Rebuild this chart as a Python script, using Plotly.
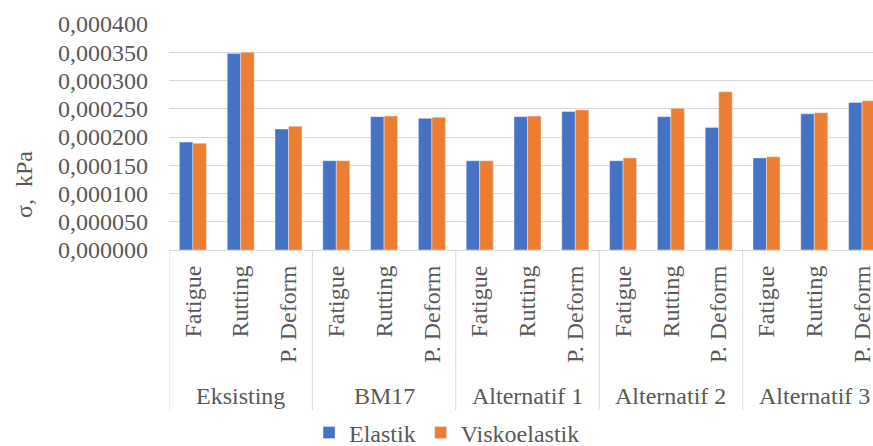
import plotly.graph_objects as go

# Stress per design alternative and distress criterion
groups = ["Eksisting", "BM17", "Alternatif 1", "Alternatif 2", "Alternatif 3"]
metrics = ["Fatigue", "Rutting", "P. Deform"]

elastik = [
    0.000191, 0.000348, 0.000214,
    0.000158, 0.000236, 0.000233,
    0.000158, 0.000236, 0.000245,
    0.000158, 0.000236, 0.000217,
    0.000163, 0.000241, 0.000261,
]
viskoelastik = [
    0.000189, 0.000350, 0.000219,
    0.000158, 0.000237, 0.000235,
    0.000158, 0.000237, 0.000248,
    0.000163, 0.000251, 0.000280,
    0.000165, 0.000243, 0.000264,
]

y_ticks = [0, 0.00005, 0.0001, 0.00015, 0.0002, 0.00025, 0.0003, 0.00035, 0.0004]

FONT = "Liberation Serif"
FS = 24
GREY = "#595959"
GRID = "#D9D9D9"

x_pos = list(range(len(groups) * len(metrics)))
inner_labels = [m for _ in groups for m in metrics]

fig = go.Figure()
fig.add_trace(go.Bar(x=x_pos, y=elastik, name="Elastik", marker_color="#4472C4"))
fig.add_trace(go.Bar(x=x_pos, y=viskoelastik, name="Viskoelastik", marker_color="#ED7D31"))

n_in = len(metrics)
shapes = []
annotations = []
for gi, g in enumerate(groups):
    left = gi * n_in - 0.5
    shapes.append(dict(type="line", xref="x", yref="paper", x0=left, x1=left,
                       y0=0, y1=-0.708, line=dict(color=GRID, width=1)))
    annotations.append(dict(text=g, xref="x", yref="paper", x=gi * n_in + 1,
                            y=-0.645, yanchor="middle", showarrow=False,
                            font=dict(family=FONT, size=FS, color=GREY)))

annotations.append(dict(text="σ,  kPa", xref="paper", yref="paper",
                        x=-145 / 704, y=(250 - 185) / 226,
                        xanchor="center", yanchor="middle", textangle=-90,
                        showarrow=False, font=dict(family=FONT, size=FS, color=GREY)))

fig.update_layout(
    width=873, height=446,
    margin=dict(l=169, r=0, t=24, b=196, autoexpand=False),
    plot_bgcolor="white", paper_bgcolor="white",
    barmode="group", bargap=0.435, bargroupgap=0,
    separators=", ",
    font=dict(family=FONT, size=FS, color=GREY),
    shapes=shapes, annotations=annotations,
    legend=dict(orientation="h", xref="container", yref="container",
                x=0.354, xanchor="left", y=(446 - 433) / 446, yanchor="middle",
                font=dict(family=FONT, size=FS, color=GREY),
                itemwidth=30, tracegroupgap=0, bgcolor="rgba(0,0,0,0)"),
)
fig.update_xaxes(
    range=[-0.5, -0.5 + 704 / 47.8],
    tickmode="array", tickvals=x_pos, ticktext=inner_labels,
    tickangle=-90, ticks="", showgrid=False, zeroline=False,
    showline=True, linecolor=GRID, linewidth=1,
    ticklabeloverflow="allow", ticklabelstandoff=5,
    tickfont=dict(family=FONT, size=FS, color=GREY),
)
fig.update_yaxes(
    range=[0, 0.0004], tickmode="array", tickvals=y_ticks, tickformat=".6f",
    showgrid=True, gridcolor=GRID, gridwidth=1, zeroline=False,
    showline=False, ticks="", ticklabelstandoff=20,
    tickfont=dict(family=FONT, size=FS, color=GREY),
)

fig.write_html("out.html")
